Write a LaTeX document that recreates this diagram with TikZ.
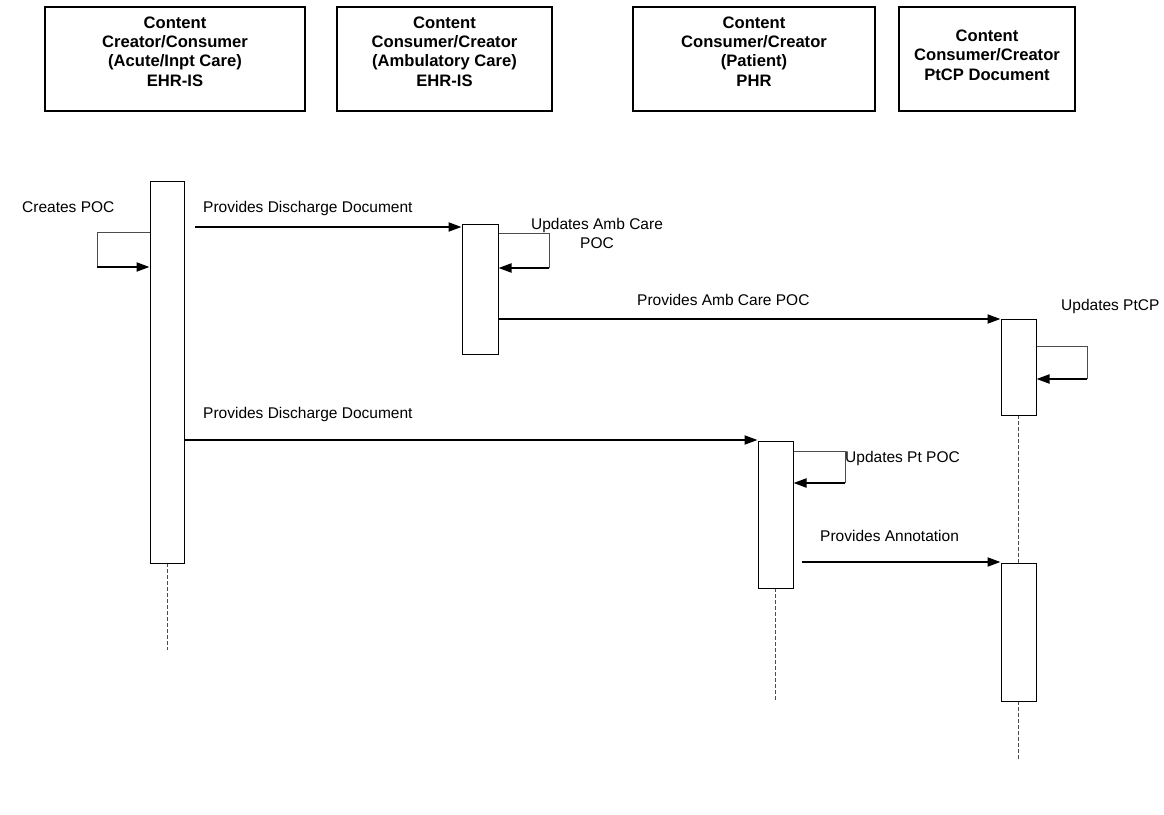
\documentclass[tikz,border=0pt]{standalone}
\usepackage{fontspec}
\setmainfont{Liberation Sans}
\usetikzlibrary{arrows.meta}
\begin{document}
\begin{tikzpicture}[x=1pt,y=-1pt,
  hdr/.style={draw=black,line width=1.1pt,inner sep=0pt},
  hdrtxt/.style={align=center,font=\fontsize{16.6}{19.3}\selectfont\bfseries,inner sep=0pt},
  bar/.style={draw=black,line width=1pt,fill=white,inner sep=0pt},
  msg/.style={line width=2pt,-{Triangle[length=13pt,width=9pt]}},
  selfln/.style={draw=black!70,line width=1pt},
  ret/.style={line width=2pt,-{Triangle[length=13pt,width=9pt]}},
  life/.style={draw=black!70,line width=1pt,dash pattern=on 3.5pt off 2.5pt},
  lbl/.style={font=\fontsize{15.5}{19}\selectfont,inner sep=0pt}]
\useasboundingbox (0,0) rectangle (1164,814);

% header boxes
\node[hdr,minimum width=260pt,minimum height=104pt] (h1) at (175,59) {};
\node[hdrtxt] (h1t) at (175,51.5) {Content\\Creator/Consumer\\(Acute/Inpt Care)\\EHR-IS};
\node[hdr,minimum width=215pt,minimum height=104pt] (h2) at (444.5,59) {};
\node[hdrtxt] (h2t) at (444.5,51.5) {Content\\Consumer/Creator\\(Ambulatory Care)\\EHR-IS};
\node[hdr,minimum width=242pt,minimum height=104pt] (h3) at (754,59) {};
\node[hdrtxt] (h3t) at (754,51.5) {Content\\Consumer/Creator\\(Patient)\\PHR};
\node[hdr,minimum width=176pt,minimum height=104pt] (h4) at (987,59) {};
\node[hdrtxt] (h4t) at (987,55) {Content\\Consumer/Creator\\PtCP Document};

% lifeline ends
\coordinate (e1) at (167,650);
\coordinate (e4) at (775.5,700);
\coordinate (e5) at (1018.5,760);
\coordinate (m3) at (1018.5,415);
\coordinate (m5) at (1018.5,563);
\coordinate (m4) at (775.5,588);
\coordinate (m1) at (167,563);
\draw[life] (m1) -- (e1);
\draw[life] (m3) -- (m5);
\draw[life] (m4) -- (e4);
\draw[life] (m5) -- (e5);

% activation bars
\node[bar,minimum width=34pt,minimum height=382pt] (b1) at (167,372) {};
\node[bar,minimum width=36pt,minimum height=130pt] (b2) at (480,289) {};
\node[bar,minimum width=35pt,minimum height=96pt] (b3) at (1018.5,367) {};
\node[bar,minimum width=35pt,minimum height=147pt] (b4) at (775.5,514.5) {};
\node[bar,minimum width=35pt,minimum height=138pt] (b5) at (1018.5,632) {};

% messages
\coordinate (s1) at (195,227);
\draw[msg] (s1) -- (s1 -| b2.west);
\coordinate (s2) at (498,319);
\draw[msg] (s2) -- (s2 -| b3.west);
\coordinate (s3) at (185,440);
\draw[msg] (s3) -- (s3 -| b4.west);
\coordinate (s4) at (802,562);
\draw[msg] (s4) -- (s4 -| b5.west);

% self messages
\coordinate (l1) at (97,232); \coordinate (l1b) at (97,267);
\draw[selfln] (b1.west |- l1) -- (l1) -- (l1b);
\draw[ret] (l1b) -- (l1b -| b1.west);

\coordinate (l2) at (549,233); \coordinate (l2b) at (549,268);
\draw[selfln] (b2.east |- l2) -- (l2) -- (l2b);
\draw[ret] (l2b) -- (l2b -| b2.east);

\coordinate (l3) at (1087,346); \coordinate (l3b) at (1087,379);
\draw[selfln] (b3.east |- l3) -- (l3) -- (l3b);
\draw[ret] (l3b) -- (l3b -| b3.east);

\coordinate (l4) at (845,451); \coordinate (l4b) at (845,483);
\draw[selfln] (b4.east |- l4) -- (l4) -- (l4b);
\draw[ret] (l4b) -- (l4b -| b4.east);

% labels
\node[lbl,anchor=base west] (t1) at (22,212) {Creates POC};
\node[lbl,anchor=base west] (t2) at (203,212) {Provides Discharge Document};
\node[lbl,align=center,anchor=north] (t3) at (597,218) {Updates Amb Care\\POC};
\node[lbl,anchor=base west] (t4) at (637,305) {Provides Amb Care POC};
\node[lbl,anchor=base west] (t5) at (1061,310) {Updates PtCP};
\node[lbl,anchor=base west] (t6) at (203,418) {Provides Discharge Document};
\node[lbl,anchor=base west] (t7) at (845,462) {Updates Pt POC};
\node[lbl,anchor=base west] (t8) at (820,541) {Provides Annotation};
\end{tikzpicture}
\end{document}
